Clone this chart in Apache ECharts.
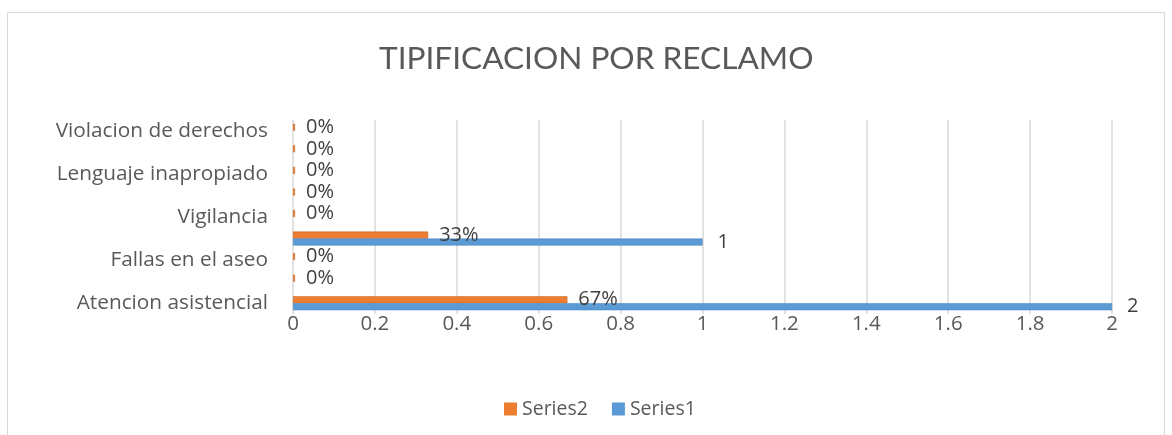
<!DOCTYPE html>
<html>
<head>
<meta charset="utf-8">
<script src="https://cdn.jsdelivr.net/npm/echarts@6/dist/echarts.min.js"></script>
<style>
html,body{margin:0;padding:0;background:#fff;}
#chart{width:1172px;height:435px;}
</style>
</head>
<body>
<div id="chart"></div>
<script>
// Categories bottom to top (only every other one is labelled in the reference)
const categories = ['Atencion asistencial', '', 'Fallas en el aseo', '', 'Vigilancia', '', 'Lenguaje inapropiado', '', 'Violacion de derechos'];
const series1Values = [2, '-', '-', 1, '-', '-', '-', '-', '-'];
const series2Values = [0.67, 0, 0, 0.33, 0, 0, 0, 0, 0];
const xTicks = [0, 0.2, 0.4, 0.6, 0.8, 1, 1.2, 1.4, 1.6, 1.8, 2];
const titleText = 'TIPIFICACION POR RECLAMO';

const FONT = 'Open Sans';
const chart = echarts.init(document.getElementById('chart'), null, {renderer: 'canvas'});
chart.setOption({
  backgroundColor: '#ffffff',
  animation: false,
  graphic: [{
    type: 'rect', silent: true, z: -1,
    shape: {x: 7.5, y: 12.5, width: 1157, height: 440},
    style: {fill: '#ffffff', stroke: '#d9d9d9', lineWidth: 1}
  }],
  title: {
    text: titleText, left: 374, top: 38,
    textStyle: {fontFamily: 'Lato', fontSize: 31.6, fontWeight: 'normal', color: '#595959'}
  },
  legend: {
    data: ['Series2', 'Series1'],
    left: 499, top: 394,
    itemWidth: 13, itemHeight: 13, itemGap: 24,
    icon: 'rect',
    itemStyle: {borderWidth: 0},
    textStyle: {fontFamily: FONT, fontSize: 19.5, color: '#595959'}
  },
  grid: {left: 293, right: 60, top: 120, bottom: 121, containLabel: false},
  xAxis: {
    type: 'value', min: xTicks[0], max: xTicks[xTicks.length - 1], interval: 0.2,
    axisLine: {show: false}, axisTick: {show: false},
    splitLine: {show: true, lineStyle: {color: '#d9d9d9', width: 1.5}},
    axisLabel: {fontFamily: FONT, fontSize: 20.5, color: '#595959', margin: 0,
      formatter: v => String(Math.round(v * 10) / 10)}
  },
  yAxis: {
    type: 'category', data: categories,
    axisLine: {show: false}, axisTick: {show: false},
    axisLabel: {interval: 1, fontFamily: FONT, fontSize: 20.8, color: '#595959', margin: 25}
  },
  series: [
    {
      name: 'Series2', type: 'bar', data: series2Values,
      barWidth: 7, barGap: '0%', barMinHeight: 2,
      itemStyle: {color: '#ED7D31', borderColor: '#c0611f', borderWidth: 0.5},
      label: {show: true, position: 'right', distance: 11, fontFamily: FONT, fontSize: 20, color: '#404040',
        formatter: p => Math.round(p.value * 100) + '%'}
    },
    {
      name: 'Series1', type: 'bar', data: series1Values,
      barWidth: 7, barGap: '0%',
      itemStyle: {color: '#5B9BD5', borderColor: '#3f7fb9', borderWidth: 0.5},
      label: {show: true, position: 'right', distance: 15, fontFamily: FONT, fontSize: 20, color: '#404040'}
    }
  ]
});
</script>
</body>
</html>
